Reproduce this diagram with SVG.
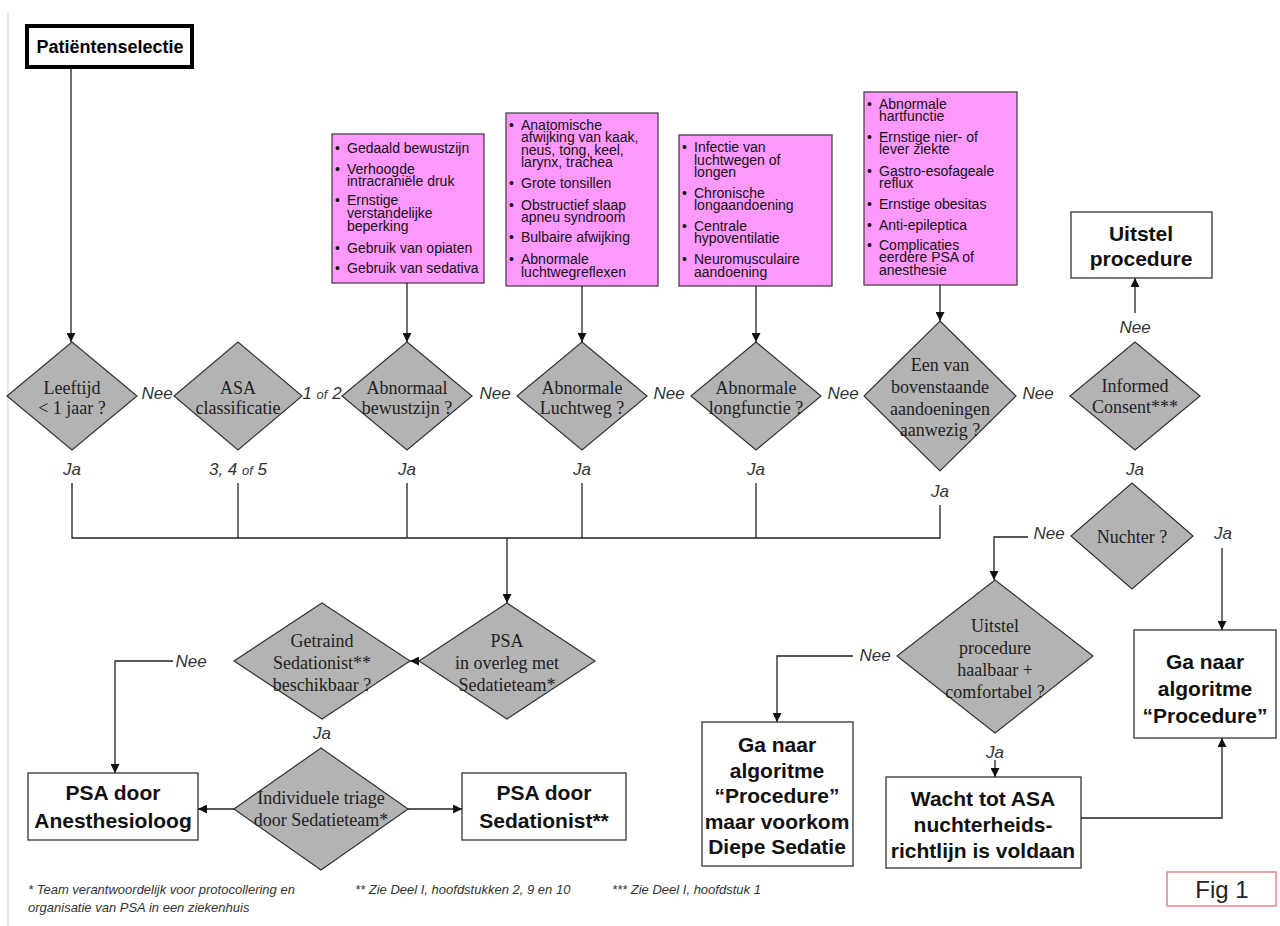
<svg xmlns="http://www.w3.org/2000/svg" width="1280" height="926" viewBox="0 0 1280 926">
<style>
.dia{fill:#b3b3b3;stroke:#333;stroke-width:1.2}
.pink{fill:#ff99ff;stroke:#444;stroke-width:1.3}
.box{fill:#fff;stroke:#333;stroke-width:1.3}
.ln{fill:none;stroke:#222;stroke-width:1.3}
.d{font-family:"Liberation Serif",serif;font-size:18px;text-anchor:middle;fill:#222}
.lbl{font-family:"Liberation Sans",sans-serif;font-style:italic;font-size:17px;text-anchor:middle;fill:#333}
.pk{font-family:"Liberation Sans",sans-serif;font-size:14px;fill:#111}
.bx{font-family:"Liberation Sans",sans-serif;font-weight:bold;font-size:21px;text-anchor:middle;fill:#111}
.fn{font-family:"Liberation Sans",sans-serif;font-style:italic;font-size:13px;fill:#333}
</style>
<defs>
<marker id="ar" viewBox="0 0 10 10" refX="10" refY="5" markerWidth="9" markerHeight="9" markerUnits="userSpaceOnUse" orient="auto">
<path d="M0,0 L10,5 L0,10 z" fill="#111"/>
</marker>
</defs>
<rect width="1280" height="926" fill="#fff"/>
<line x1="8" y1="13" x2="8" y2="926" stroke="#cfcfcf" stroke-width="1"/>

<g id="start">
<rect x="27" y="26" width="165" height="41" fill="#fff" stroke="#000" stroke-width="4"/>
<text x="110" y="53" font-family="Liberation Sans, sans-serif" font-weight="bold" font-size="18" text-anchor="middle">Patiëntenselectie</text>
</g>

<g id="pink1">
<rect class="pink" x="332" y="134" width="152" height="149"/>
<text class="pk"><tspan x="335" y="153">•</tspan><tspan x="347" y="153">Gedaald bewustzijn</tspan>
<tspan x="335" y="174">•</tspan><tspan x="347" y="174">Verhoogde</tspan><tspan x="347" y="186">intracraniële druk</tspan>
<tspan x="335" y="205">•</tspan><tspan x="347" y="205">Ernstige</tspan><tspan x="347" y="218">verstandelijke</tspan><tspan x="347" y="231">beperking</tspan>
<tspan x="335" y="253">•</tspan><tspan x="347" y="253">Gebruik van opiaten</tspan>
<tspan x="335" y="273">•</tspan><tspan x="347" y="273">Gebruik van sedativa</tspan></text>
</g>
<g id="pink2">
<rect class="pink" x="506" y="113" width="152" height="173"/>
<text class="pk"><tspan x="509" y="130">•</tspan><tspan x="521" y="130">Anatomische</tspan><tspan x="521" y="142">afwijking van kaak,</tspan><tspan x="521" y="155">neus, tong, keel,</tspan><tspan x="521" y="167">larynx, trachea</tspan>
<tspan x="509" y="188">•</tspan><tspan x="521" y="188">Grote tonsillen</tspan>
<tspan x="509" y="210">•</tspan><tspan x="521" y="210">Obstructief slaap</tspan><tspan x="521" y="222">apneu syndroom</tspan>
<tspan x="509" y="242">•</tspan><tspan x="521" y="242">Bulbaire afwijking</tspan>
<tspan x="509" y="264">•</tspan><tspan x="521" y="264">Abnormale</tspan><tspan x="521" y="277">luchtwegreflexen</tspan></text>
</g>
<g id="pink3">
<rect class="pink" x="679" y="135" width="153" height="151"/>
<text class="pk"><tspan x="682" y="152">•</tspan><tspan x="694" y="152">Infectie van</tspan><tspan x="694" y="165">luchtwegen of</tspan><tspan x="694" y="177">longen</tspan>
<tspan x="682" y="198">•</tspan><tspan x="694" y="198">Chronische</tspan><tspan x="694" y="210">longaandoening</tspan>
<tspan x="682" y="231">•</tspan><tspan x="694" y="231">Centrale</tspan><tspan x="694" y="243">hypoventilatie</tspan>
<tspan x="682" y="264">•</tspan><tspan x="694" y="264">Neuromusculaire</tspan><tspan x="694" y="277">aandoening</tspan></text>
</g>
<g id="pink4">
<rect class="pink" x="864" y="92" width="153" height="193"/>
<text class="pk"><tspan x="867" y="109">•</tspan><tspan x="879" y="109">Abnormale</tspan><tspan x="879" y="121">hartfunctie</tspan>
<tspan x="867" y="142">•</tspan><tspan x="879" y="142">Ernstige nier- of</tspan><tspan x="879" y="154">lever ziekte</tspan>
<tspan x="867" y="176">•</tspan><tspan x="879" y="176">Gastro-esofageale</tspan><tspan x="879" y="188">reflux</tspan>
<tspan x="867" y="209">•</tspan><tspan x="879" y="209">Ernstige obesitas</tspan>
<tspan x="867" y="230">•</tspan><tspan x="879" y="230">Anti-epileptica</tspan>
<tspan x="867" y="250">•</tspan><tspan x="879" y="250">Complicaties</tspan><tspan x="879" y="262">eerdere PSA of</tspan><tspan x="879" y="275">anesthesie</tspan></text>
</g>

<g id="d-leeftijd">
<polygon class="dia" points="72,342 137,396 72,450 7,396"/>
<text class="d" x="72" y="394">Leeftijd</text><text class="d" x="72" y="414">&lt; 1 jaar ?</text>
</g>
<g id="d-asa">
<polygon class="dia" points="238,342 302,396 238,450 174,396"/>
<text class="d" x="238" y="394">ASA</text><text class="d" x="238" y="414">classificatie</text>
</g>
<g id="d-bewustzijn">
<polygon class="dia" points="407,342 472,396 407,450 342,396"/>
<text class="d" x="407" y="394">Abnormaal</text><text class="d" x="407" y="414">bewustzijn ?</text>
</g>
<g id="d-luchtweg">
<polygon class="dia" points="582,342 647,396 582,450 517,396"/>
<text class="d" x="582" y="394">Abnormale</text><text class="d" x="582" y="414">Luchtweg ?</text>
</g>
<g id="d-longfunctie">
<polygon class="dia" points="756,342 821,396 756,450 691,396"/>
<text class="d" x="756" y="394">Abnormale</text><text class="d" x="756" y="414">longfunctie ?</text>
</g>
<g id="d-eenvan">
<polygon class="dia" points="940,321 1016,396 940,471 864,396"/>
<text class="d" x="940" y="371">Een van</text><text class="d" x="940" y="393">bovenstaande</text><text class="d" x="940" y="415">aandoeningen</text><text class="d" x="940" y="436">aanwezig ?</text>
</g>
<g id="d-consent">
<polygon class="dia" points="1135,342 1200,396 1135,450 1070,396"/>
<text class="d" x="1135" y="392">Informed</text><text class="d" x="1135" y="413">Consent***</text>
</g>
<g id="uitstel">
<rect class="box" x="1071" y="212" width="141" height="66"/>
<text class="bx" x="1141" y="241">Uitstel</text><text class="bx" x="1141" y="266">procedure</text>
</g>
<g id="d-nuchter">
<polygon class="dia" points="1132,483 1193,536 1132,589 1071,536"/>
<text class="d" x="1132" y="543">Nuchter ?</text>
</g>
<g id="d-haalbaar">
<polygon class="dia" points="995,580 1093,656 995,733 897,656"/>
<text class="d" x="995" y="632">Uitstel</text><text class="d" x="995" y="654">procedure</text><text class="d" x="995" y="676">haalbaar +</text><text class="d" x="995" y="698">comfortabel ?</text>
</g>
<g id="ganaar-right">
<rect class="box" x="1134" y="630" width="142" height="108"/>
<text class="bx" x="1205" y="669">Ga naar</text><text class="bx" x="1205" y="696">algoritme</text><text class="bx" x="1205" y="723">“Procedure”</text>
</g>
<g id="ganaar-mid">
<rect class="box" x="702" y="722" width="151" height="144"/>
<text class="bx" x="777" y="752">Ga naar</text><text class="bx" x="777" y="778">algoritme</text><text class="bx" x="777" y="803">“Procedure”</text><text class="bx" x="777" y="829">maar voorkom</text><text class="bx" x="777" y="854">Diepe Sedatie</text>
</g>
<g id="wacht">
<rect class="box" x="886" y="777" width="195" height="91"/>
<text class="bx" x="983" y="806">Wacht tot ASA</text><text class="bx" x="983" y="832">nuchterheids-</text><text class="bx" x="983" y="858">richtlijn is voldaan</text>
</g>
<g id="d-psa">
<polygon class="dia" points="507,603 595,661 507,719 419,661"/>
<text class="d" x="507" y="647">PSA</text><text class="d" x="507" y="669">in overleg met</text><text class="d" x="507" y="691">Sedatieteam*</text>
</g>
<g id="d-getraind">
<polygon class="dia" points="322,603 410,661 322,719 234,661"/>
<text class="d" x="322" y="647">Getraind</text><text class="d" x="322" y="669">Sedationist**</text><text class="d" x="322" y="691">beschikbaar ?</text>
</g>
<g id="d-triage">
<polygon class="dia" points="321,748 408,809 321,870 234,809"/>
<text class="d" x="321" y="804">Individuele triage</text><text class="d" x="321" y="826">door Sedatieteam*</text>
</g>
<g id="anesthesioloog">
<rect class="box" x="28" y="773" width="170" height="67"/>
<text class="bx" x="113" y="800">PSA door</text><text class="bx" x="113" y="828">Anesthesioloog</text>
</g>
<g id="sedationist">
<rect class="box" x="462" y="773" width="164" height="67"/>
<text class="bx" x="544" y="800">PSA door</text><text class="bx" x="544" y="828">Sedationist**</text>
</g>

<g id="connectors">
<polyline class="ln" points="71,69 71,342" marker-end="url(#ar)"/>
<polyline class="ln" points="407,283 407,342" marker-end="url(#ar)"/>
<polyline class="ln" points="582,286 582,342" marker-end="url(#ar)"/>
<polyline class="ln" points="756,286 756,342" marker-end="url(#ar)"/>
<polyline class="ln" points="940,285 940,321" marker-end="url(#ar)"/>
<polyline class="ln" points="1135,313 1135,278" marker-end="url(#ar)"/>
<polyline class="ln" points="72,483 72,538 940,538 940,505"/>
<line class="ln" x1="238" y1="483" x2="238" y2="538"/>
<line class="ln" x1="407" y1="483" x2="407" y2="538"/>
<line class="ln" x1="582" y1="483" x2="582" y2="538"/>
<line class="ln" x1="756" y1="483" x2="756" y2="538"/>
<polyline class="ln" points="507,538 507,603" marker-end="url(#ar)"/>
<polyline class="ln" points="419,661 410,661" marker-end="url(#ar)"/>
<polyline class="ln" points="173,661 115,661 115,773" marker-end="url(#ar)"/>
<polyline class="ln" points="234,809 198,809" marker-end="url(#ar)"/>
<polyline class="ln" points="408,809 462,809" marker-end="url(#ar)"/>
<polyline class="ln" points="1028,537 994,537 994,580" marker-end="url(#ar)"/>
<polyline class="ln" points="1222,548 1222,630" marker-end="url(#ar)"/>
<polyline class="ln" points="853,656 777,656 777,722" marker-end="url(#ar)"/>
<polyline class="ln" points="995,760 995,777" marker-end="url(#ar)"/>
<polyline class="ln" points="1081,818 1222,818 1222,738" marker-end="url(#ar)"/>
</g>

<g id="labels">
<text class="lbl" x="157" y="399">Nee</text>
<text class="lbl" x="322" y="399">1 <tspan font-size="13">of</tspan> 2</text>
<text class="lbl" x="495" y="399">Nee</text>
<text class="lbl" x="669" y="399">Nee</text>
<text class="lbl" x="843" y="399">Nee</text>
<text class="lbl" x="1038" y="399">Nee</text>
<text class="lbl" x="1135" y="333">Nee</text>
<text class="lbl" x="72" y="475">Ja</text>
<text class="lbl" x="238" y="475">3, 4 <tspan font-size="13">of</tspan> 5</text>
<text class="lbl" x="407" y="475">Ja</text>
<text class="lbl" x="582" y="475">Ja</text>
<text class="lbl" x="756" y="475">Ja</text>
<text class="lbl" x="940" y="497">Ja</text>
<text class="lbl" x="1135" y="475">Ja</text>
<text class="lbl" x="1049" y="539">Nee</text>
<text class="lbl" x="1223" y="539">Ja</text>
<text class="lbl" x="875" y="661">Nee</text>
<text class="lbl" x="995" y="758">Ja</text>
<text class="lbl" x="191" y="667">Nee</text>
<text class="lbl" x="322" y="739">Ja</text>
</g>

<g id="footnotes">
<text class="fn" x="28" y="894">* Team verantwoordelijk voor protocollering en</text>
<text class="fn" x="28" y="912">organisatie van PSA in een ziekenhuis</text>
<text class="fn" x="355" y="894">** Zie Deel I, hoofdstukken 2, 9 en 10</text>
<text class="fn" x="612" y="894">*** Zie Deel I, hoofdstuk 1</text>
</g>
<g id="fig">
<rect x="1167" y="872" width="109" height="34" fill="#fff" stroke="#e06666" stroke-width="1.2"/>
<text x="1222" y="898" font-family="Liberation Sans, sans-serif" font-size="24" text-anchor="middle" fill="#222">Fig 1</text>
</g>
</svg>
